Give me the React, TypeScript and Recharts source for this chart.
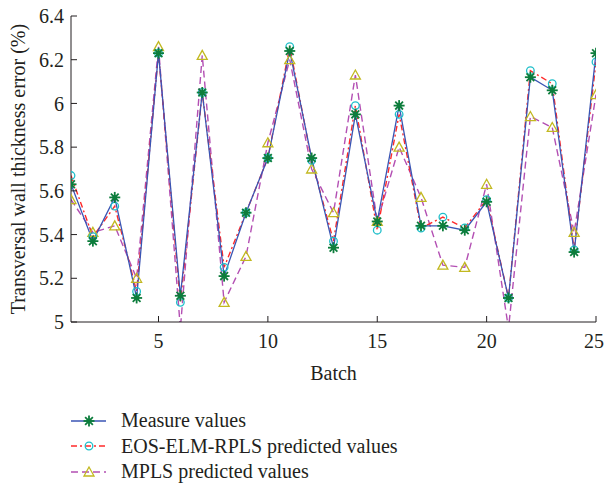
import React from 'react';
import { LineChart, Line, XAxis, YAxis } from 'recharts';

const batches = [1, 2, 3, 4, 5, 6, 7, 8, 9, 10, 11, 12, 13, 14, 15, 16, 17, 18, 19, 20, 21, 22, 23, 24, 25];
const measureValues = [5.63, 5.37, 5.57, 5.11, 6.23, 5.12, 6.05, 5.21, 5.5, 5.75, 6.24, 5.75, 5.34, 5.95, 5.46, 5.99, 5.44, 5.44, 5.42, 5.55, 5.11, 6.12, 6.06, 5.32, 6.23];
const eosValues = [5.67, 5.39, 5.53, 5.14, 6.23, 5.09, 6.05, 5.25, 5.5, 5.75, 6.26, 5.74, 5.37, 5.99, 5.42, 5.95, 5.43, 5.48, 5.43, 5.56, 5.11, 6.15, 6.09, 5.33, 6.19];
const mplsValues = [5.56, 5.41, 5.44, 5.2, 6.26, 4.97, 6.22, 5.09, 5.3, 5.82, 6.2, 5.7, 5.5, 6.13, 5.46, 5.8, 5.57, 5.26, 5.25, 5.63, 4.97, 5.94, 5.89, 5.41, 6.04];
const xTicks = [5, 10, 15, 20, 25];
const yTicks = [5, 5.2, 5.4, 5.6, 5.8, 6, 6.2, 6.4];
const seriesNames = ['Measure values', 'EOS-ELM-RPLS predicted values', 'MPLS predicted values'];

const data = batches.map((b, i) => ({
  batch: b,
  measure: measureValues[i],
  eos: eosValues[i],
  mpls: mplsValues[i],
}));

const FONT = '"Liberation Serif", "DejaVu Serif", serif';
const INK = '#231f20';
const BLUE = '#3a55b4';
const GREEN = '#0d7d3c';
const RED = '#ff2a2a';
const CYAN = '#1fbfca';
const PURPLE = '#b34fb3';
const YELLOW = '#c2b820';

const Star = ({ cx, cy }: any) => {
  if (cx == null || cy == null) return null;
  const r = 5.5;
  const spokes = [0, 45, 90, 135].map((a) => {
    const rad = (a * Math.PI) / 180;
    return (
      <line key={a} x1={cx - r * Math.cos(rad)} y1={cy - r * Math.sin(rad)} x2={cx + r * Math.cos(rad)} y2={cy + r * Math.sin(rad)} stroke={GREEN} strokeWidth={1.8} />
    );
  });
  return <g>{spokes}<circle cx={cx} cy={cy} r={2.5} fill={GREEN} /></g>;
};

const Circ = ({ cx, cy }: any) => {
  if (cx == null || cy == null) return null;
  return <circle cx={cx} cy={cy} r={3.8} fill="none" stroke={CYAN} strokeWidth={1.3} />;
};

const Tri = ({ cx, cy }: any) => {
  if (cx == null || cy == null) return null;
  const s = 5;
  return <polygon points={`${cx},${cy - s} ${cx - s},${cy + s * 0.8} ${cx + s},${cy + s * 0.8}`} fill="none" stroke={YELLOW} strokeWidth={1.3} />;
};

const legendItems = [
  { name: seriesNames[0], color: BLUE, dash: undefined as string | undefined, Marker: Star },
  { name: seriesNames[1], color: RED, dash: '6 3 2 3', Marker: Circ },
  { name: seriesNames[2], color: PURPLE, dash: '7 4', Marker: Tri },
];

const App: React.FC = () => {
  const tickStyle = { fill: INK, fontSize: 20, fontFamily: FONT };
  return (
    <div style={{ position: 'absolute', left: 0, top: 0, width: 604, height: 485, background: '#fff' }}>
      <LineChart width={604} height={485} data={data} margin={{ top: 16, right: 8, left: 0, bottom: 113 }}>
        <XAxis
          dataKey="batch"
          type="number"
          domain={[1, 25]}
          ticks={xTicks}
          allowDataOverflow
          height={50}
          tickSize={-6}
          tickMargin={18}
          tick={tickStyle}
          stroke={INK}
          label={{
            content: (p: any) => {
              const vb = p.viewBox;
              return (
                <text x={vb.x + vb.width / 2} y={373} textAnchor="middle" dominantBaseline="central" fontSize={20} fontFamily={FONT} fill={INK}>
                  Batch
                </text>
              );
            },
          }}
        />
        <XAxis xAxisId="top" orientation="top" dataKey="batch" type="number" domain={[1, 25]} ticks={xTicks} height={0} tickSize={-6} tick={false} stroke={INK} />
        <YAxis
          type="number"
          domain={[5, 6.4]}
          ticks={yTicks}
          allowDataOverflow
          width={71}
          tickSize={-6}
          tickMargin={13}
          tick={tickStyle}
          stroke={INK}
          label={{
            content: (p: any) => {
              const vb = p.viewBox;
              const cy = vb.y + vb.height / 2;
              return (
                <text x={18} y={cy} transform={`rotate(-90 18 ${cy})`} textAnchor="middle" dominantBaseline="central" fontSize={20} fontFamily={FONT} fill={INK}>
                  Transversal wall thickness error (%)
                </text>
              );
            },
          }}
        />
        <YAxis yAxisId="right" orientation="right" type="number" domain={[5, 6.4]} ticks={yTicks} width={0} tickSize={-6} tick={false} stroke={INK} />
        <Line dataKey="mpls" name={seriesNames[2]} stroke={PURPLE} strokeWidth={1.4} strokeDasharray="7 4" dot={<Tri />} isAnimationActive={false} />
        <Line dataKey="eos" name={seriesNames[1]} stroke={RED} strokeWidth={1.4} strokeDasharray="6 3 2 3" dot={<Circ />} isAnimationActive={false} />
        <Line dataKey="measure" name={seriesNames[0]} stroke={BLUE} strokeWidth={1.3} dot={<Star />} isAnimationActive={false} />
      </LineChart>
      <div style={{ position: 'absolute', left: 70, top: 408 }}>
        {legendItems.map((it) => (
          <div key={it.name} style={{ display: 'flex', alignItems: 'center', height: 25.5 }}>
            <svg width={40} height={20}>
              <line x1={1} y1={10} x2={36} y2={10} stroke={it.color} strokeWidth={1.4} strokeDasharray={it.dash} />
              <it.Marker cx={19} cy={10} />
            </svg>
            <span style={{ marginLeft: 11, fontFamily: FONT, fontSize: 20, color: INK, lineHeight: '25px' }}>{it.name}</span>
          </div>
        ))}
      </div>
    </div>
  );
};

export default App;
